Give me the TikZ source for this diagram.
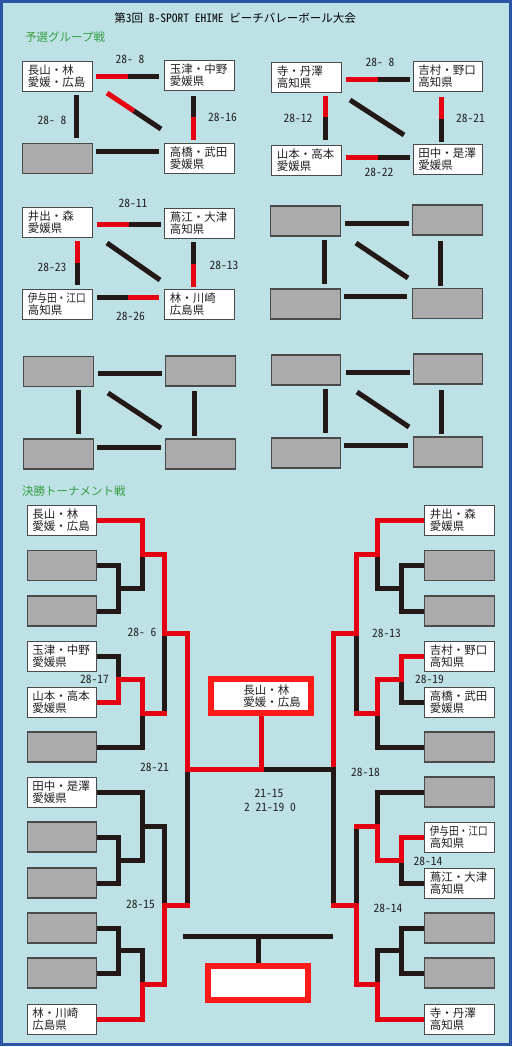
\documentclass[tikz,border=0pt]{standalone}
\usepackage{fontspec}
\setmainfont{Noto Sans CJK JP}
\newfontfamily\hw{Noto Sans CJK JP}[RawFeature=+hwid]
\usetikzlibrary{backgrounds,calc}
\definecolor{bg}{HTML}{BEE1E6}
\definecolor{frameblue}{HTML}{2A55A5}
\definecolor{hdgreen}{HTML}{33A040}
\definecolor{lnblack}{HTML}{231815}
\definecolor{lnred}{HTML}{E50012}
\definecolor{boxred}{HTML}{FF1A1A}
\definecolor{grayfill}{HTML}{ABABAB}
\definecolor{boxline}{HTML}{4A4A4A}
\definecolor{txt}{HTML}{222222}
\newcommand{\hsp}{\hspace{0.5em}}
\tikzset{
  team/.style={draw=boxline, line width=1pt, fill=white, minimum width=69.5pt,
    minimum height=30pt, text width=59.5pt, inner xsep=5pt, inner ysep=0pt,
    align=left, font=\fontsize{11.5}{12}\selectfont, text=txt},
  empty/.style={draw=boxline, line width=1.2pt, fill=grayfill,
    minimum width=69.5pt, minimum height=30pt, inner sep=0pt},
  score/.style={font=\hw\fontsize{11.5}{12}\selectfont, text=txt, inner sep=0pt},
  header/.style={font=\fontsize{11.5}{12}\selectfont, text=hdgreen, inner sep=0pt, anchor=west},
  bk/.style={draw=lnblack, line width=5pt},
  rd/.style={draw=lnred, line width=5pt},
  bbk/.style={bk, line cap=rect},
  brd/.style={rd, line cap=rect},
  bigbox/.style={draw=boxred, line width=6pt, fill=white, inner sep=0pt,
    minimum width=100pt, minimum height=34pt, align=left,
    font=\fontsize{11.5}{12}\selectfont, text=txt}
}
\begin{document}
\begin{tikzpicture}[x=1pt,y=-1pt]
\useasboundingbox (0,0) rectangle (513,1047);

% title and headers
\node[inner sep=0pt, font=\fontsize{11.5}{12}\selectfont, text=black] (title) at (235,18)
  {第{\hw 3}回{\hw\hsp B-SPORT\hsp EHIME\hsp}ビーチバレーボール大会};
\node[header] (h1) at (25,37) {予選グループ戦};
\node[header] (h2) at (22,491) {決勝トーナメント戦};

% ---------- preliminary groups ----------
\node[team] (A1) at (57.5,76) {長山・林\\愛媛・広島};
\node[team] (A2) at (199.5,75) {玉津・中野\\愛媛県};
\node[empty] (A3) at (57.5,158.5) {};
\node[team] (A4) at (199.5,158) {高橋・武田\\愛媛県};

\node[team] (B1) at (306.5,77) {寺・丹澤\\高知県};
\node[team] (B2) at (448,76.5) {吉村・野口\\高知県};
\node[team] (B3) at (306.5,160) {山本・高本\\愛媛県};
\node[team] (B4) at (448,159) {田中・是澤\\愛媛県};

\node[team] (C1) at (57.5,222) {井出・森\\愛媛県};
\node[team] (C2) at (199.5,223) {蔦江・大津\\高知県};
\node[team] (C3) at (57.5,304.5) {\scalebox{0.84}[1]{伊与田・江口}\\高知県};
\node[team] (C4) at (199.5,304.5) {林・川崎\\広島県};

\node[empty] (D1) at (305.5,221) {};
\node[empty] (D2) at (447.5,220) {};
\node[empty] (D3) at (305.5,304) {};
\node[empty] (D4) at (447.5,303.5) {};

\node[empty] (E1) at (58.5,371.5) {};
\node[empty] (E2) at (200.5,371) {};
\node[empty] (E3) at (58.5,454) {};
\node[empty] (E4) at (200.5,454) {};

\node[empty] (F1) at (306,370) {};
\node[empty] (F2) at (448,369) {};
\node[empty] (F3) at (306,453) {};
\node[empty] (F4) at (448,452) {};

% group scores
\node[score] (sA1) at (130,59) {28-\hsp8};
\node[score] (sA2) at (52,120) {28-\hsp8};
\node[score] (sA3) at (222.5,117) {28-16};
\node[score] (sB1) at (380,62) {28-\hsp8};
\node[score] (sB2) at (298,118) {28-12};
\node[score] (sB3) at (470.5,118) {28-21};
\node[score] (sB4) at (379,172) {28-22};
\node[score] (sC1) at (133,203) {28-11};
\node[score] (sC2) at (52,267) {28-23};
\node[score] (sC3) at (224,265) {28-13};
\node[score] (sC4) at (130.5,316) {28-26};

% ---------- tournament boxes ----------
\node[team]  (L1)  at (62,520)   {長山・林\\愛媛・広島};
\node[empty] (L2)  at (62,565.5) {};
\node[empty] (L3)  at (62,611)   {};
\node[team]  (L4)  at (62,656.5) {玉津・中野\\愛媛県};
\node[team]  (L5)  at (62,702)   {山本・高本\\愛媛県};
\node[empty] (L6)  at (62,747)   {};
\node[team]  (L7)  at (62,792)   {田中・是澤\\愛媛県};
\node[empty] (L8)  at (62,837)   {};
\node[empty] (L9)  at (62,883)   {};
\node[empty] (L10) at (62,928)   {};
\node[empty] (L11) at (62,973)   {};
\node[team]  (L12) at (62,1019)  {林・川崎\\広島県};

\node[team]  (R1)  at (459.5,520)   {井出・森\\愛媛県};
\node[empty] (R2)  at (459.5,565.5) {};
\node[empty] (R3)  at (459.5,611)   {};
\node[team]  (R4)  at (459.5,656.5) {吉村・野口\\高知県};
\node[team]  (R5)  at (459.5,702)   {高橋・武田\\愛媛県};
\node[empty] (R6)  at (459.5,747)   {};
\node[empty] (R7)  at (459.5,792)   {};
\node[team]  (R8)  at (459.5,837)   {\scalebox{0.84}[1]{伊与田・江口}\\高知県};
\node[team]  (R9)  at (459.5,883)   {蔦江・大津\\高知県};
\node[empty] (R10) at (459.5,928)   {};
\node[empty] (R11) at (459.5,973)   {};
\node[team]  (R12) at (459.5,1019)  {寺・丹澤\\高知県};

\node[bigbox] (champ) at (261,696) {\hspace*{22pt}長山・林\\\hspace*{22pt}愛媛・広島};
\node[bigbox] (third) at (258,982.5) {};

% tournament scores
\node[score] (t1) at (142,632) {28-\hsp6};
\node[score] (t2) at (94.5,679) {28-17};
\node[score] (t3) at (154.5,767) {28-21};
\node[score] (t4) at (140.5,904) {28-15};
\node[score] (t5) at (386.5,633) {28-13};
\node[score] (t6) at (429.5,679) {28-19};
\node[score] (t7) at (365.5,772) {28-18};
\node[score] (t8) at (428,861) {28-14};
\node[score] (t9) at (388,908) {28-14};
\node[score] (f1) at (269,793) {21-15};
\node[score] (f2) at (270,807) {2\hsp21-19\hsp0};

\begin{scope}[on background layer]
\fill[white] (0,0) rectangle (513,1047);
\filldraw[fill=bg, draw=frameblue, line width=3pt] (1.5,1.5) rectangle (510.5,1044.5);

% ----- group A -----
\draw[rd] (96,76.7) -- (128,76.7);  \draw[bk] (128,76.7) -- (159,76.7);
\draw[bk] (76,95) -- (76,138);
\draw[bk] (193,96) -- (193,117);    \draw[rd] (193,117) -- (193,140);
\draw[rd] (107,93) -- (134,111);    \draw[bk] (134,111) -- (161,129);
\draw[bk] (96,151) -- (159,151);
% ----- group B -----
\draw[rd] (346,79) -- (378,79);     \draw[bk] (378,79) -- (410,79);
\draw[rd] (325,96) -- (325,117);    \draw[bk] (325,117) -- (325,140);
\draw[rd] (441,97) -- (441,119);    \draw[bk] (441,119) -- (441,142);
\draw[bk] (350,100) -- (404,135);
\draw[rd] (346,157) -- (378,157);   \draw[bk] (378,157) -- (410,157);
% ----- group C -----
\draw[rd] (97,224) -- (129,224);    \draw[bk] (129,224) -- (161,224);
\draw[rd] (77,241) -- (77,263);     \draw[bk] (77,263) -- (77,285);
\draw[bk] (193,242) -- (193,264);   \draw[rd] (193,264) -- (193,287);
\draw[bk] (107,243) -- (160,280);
\draw[bk] (97,297) -- (128,297);    \draw[rd] (128,297) -- (159,297);
% ----- group D -----
\draw[bk] (345,223) -- (409,223);
\draw[bk] (324,240) -- (324,284);
\draw[bk] (440,241) -- (440,286);
\draw[bk] (356,243) -- (408,278);
\draw[bk] (344,296) -- (407,296);
% ----- group E -----
\draw[bk] (98,373) -- (162,373);
\draw[bk] (78,390) -- (78,434);
\draw[bk] (194,391) -- (194,436);
\draw[bk] (108,393) -- (161,428);
\draw[bk] (97,447) -- (161,447);
% ----- group F -----
\draw[bk] (346,372) -- (410,372);
\draw[bk] (325,389) -- (325,433);
\draw[bk] (441,390) -- (441,434);
\draw[bk] (357,392) -- (409,427);
\draw[bk] (344,445) -- (408,445);

% ----- tournament: black lines -----
% left
\draw[bbk] (L2.east) -- (118,565.5) -- (118,611) -- (L3.east);
\draw[bbk] (118,588.25) -- (142,588.25) -- (142,554);
\draw[bbk] (L4.east) -- (118,656.5) -- (118,679.25);
\draw[bbk] (L6.east) -- (142,747) -- (142,713);
\draw[bbk] (164,633.5) -- (164,713);
\draw[bbk] (L7.east) -- (142,792) -- (142,860);
\draw[bbk] (L8.east) -- (118,837) -- (118,883) -- (L9.east);
\draw[bbk] (118,860) -- (142,860);
\draw[bbk] (142,826) -- (164,826) -- (164,905.5);
\draw[bbk] (L10.east) -- (118,928) -- (118,973) -- (L11.east);
\draw[bbk] (118,950.5) -- (142,950.5) -- (142,984.75);
\draw[bbk] (187,769.5) -- (187,905.5);
% right
\draw[bbk] (R2.west) -- (401,565.5) -- (401,611) -- (R3.west);
\draw[bbk] (401,588.25) -- (377,588.25) -- (377,554);
\draw[bbk] (401,679.25) -- (401,702) -- (R5.west);
\draw[bbk] (R6.west) -- (377,747) -- (377,713);
\draw[bbk] (356,633.5) -- (356,713);
\draw[bbk] (R7.west) -- (377,792) -- (377,826);
\draw[bbk] (401,860) -- (401,883) -- (R9.west);
\draw[bbk] (356,826) -- (356,905.5);
\draw[bbk] (R10.west) -- (401,928) -- (401,973) -- (R11.west);
\draw[bbk] (401,950.5) -- (377,950.5) -- (377,984.75);
\draw[bbk] (333,769.5) -- (333,905.5);
% third place
\draw[bk] (183,936) -- (333,936);
\draw[bk] (258,936) -- (third.north);

% ----- tournament: red (winner) paths -----
\draw[brd] (L1.east) -- (142,520) -- (142,554) -- (164,554) -- (164,633.5)
  -- (187,633.5) -- (187,769.5) -- (261,769.5) -- (champ.south);
\draw[brd] (L5.east) -- (118,702) -- (118,679.25) -- (142,679.25) -- (142,713) -- (164,713);
\draw[brd] (L12.east) -- (142,1019) -- (142,984.75) -- (164,984.75) -- (164,905.5) -- (187,905.5);
\draw[brd] (R1.west) -- (377,520) -- (377,554) -- (356,554) -- (356,633.5)
  -- (333,633.5) -- (333,769.5);
\draw[brd] (R4.west) -- (401,656.5) -- (401,679.25) -- (377,679.25) -- (377,713) -- (356,713);
\draw[brd] (R8.west) -- (401,837) -- (401,860) -- (377,860) -- (377,826) -- (356,826);
\draw[brd] (R12.west) -- (377,1019) -- (377,984.75) -- (356,984.75) -- (356,905.5) -- (333,905.5);
% final losing side
\draw[bk] (263.5,769.5) -- (335.5,769.5);
\end{scope}
\end{tikzpicture}
\end{document}
